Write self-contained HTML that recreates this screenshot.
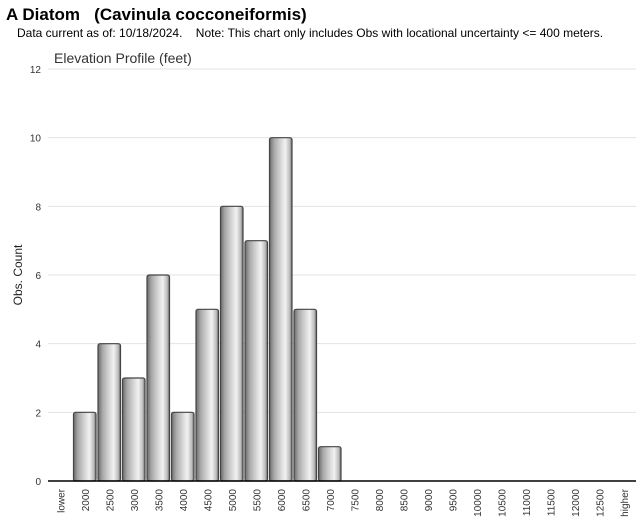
<!DOCTYPE html>
<html><head><meta charset="utf-8"><style>
body{margin:0;background:#fff;font-family:"Liberation Sans",sans-serif;}
#wrap{position:relative;width:640px;height:523px;overflow:hidden;}
</style></head><body>
<div id="wrap">
<div style="position:absolute;left:6px;top:5px;font-size:17px;font-weight:bold;color:#000;">A Diatom &nbsp; (Cavinula cocconeiformis)</div>
<div style="position:absolute;left:17px;top:26px;font-size:12px;color:#000;">Data current as of: 10/18/2024. &nbsp;&nbsp; Note: This chart only includes Obs with locational uncertainty &lt;= 400 meters.</div>
<svg id="chart" width="640" height="523" style="position:absolute;left:0;top:0">
<defs>
<linearGradient id="bg" x1="0" x2="1" y1="0" y2="0">
<stop offset="0" stop-color="#6a6a6a"/><stop offset="0.2" stop-color="#a8a8a8"/><stop offset="0.45" stop-color="#cfcfcf"/><stop offset="0.7" stop-color="#f2f2f2"/><stop offset="0.9" stop-color="#bcbcbc"/><stop offset="1" stop-color="#6a6a6a"/>
</linearGradient>
</defs>
<text x="54" y="63" font-size="14" fill="#333">Elevation Profile (feet)</text>
<text transform="translate(22,275) rotate(-90)" text-anchor="middle" font-size="12" fill="#222">Obs. Count</text>
<g id="grid"></g><g id="bars"></g><g id="xl"></g>
<line x1="48" x2="636" y1="481" y2="481" stroke="#000" stroke-width="1.5"/>
</svg>
<script>
const categories=["lower","2000","2500","3000","3500","4000","4500","5000","5500","6000","6500","7000","7500","8000","8500","9000","9500","10000","10500","11000","11500","12000","12500","higher"];
const counts=[0,2,4,3,6,2,5,8,7,10,5,1,0,0,0,0,0,0,0,0,0,0,0,0];
const yTicks=[0,2,4,6,8,10,12];
const ns="http://www.w3.org/2000/svg";
const L=48,R=636,T=69,B=481,yMax=12;
const bw=(R-L)/categories.length;
const y=v=>B-(v/yMax)*(B-T);
const x=i=>L+i*bw;
const g=document.getElementById('grid'),bg=document.getElementById('bars'),xl=document.getElementById('xl');
yTicks.forEach(t=>{
 const ln=document.createElementNS(ns,'line');
 
 
 ln.setAttribute('x1',L);ln.setAttribute('x2',R);ln.setAttribute('y1',y(t));ln.setAttribute('y2',y(t));
 ln.setAttribute('stroke','#e3e3e3');g.appendChild(ln);
 const tx=document.createElementNS(ns,'text');
 
 
 tx.setAttribute('x',41);tx.setAttribute('y',y(t)+4);tx.setAttribute('text-anchor','end');
 tx.setAttribute('font-size','10');tx.setAttribute('fill','#333');tx.textContent=t;g.appendChild(tx);
});
categories.forEach((c,i)=>{
 const v=counts[i];
 if(v>0){
  const r=document.createElementNS(ns,'rect');
  
  
  r.setAttribute('x',x(i)+1);r.setAttribute('width',bw-2);
  r.setAttribute('y',y(v));r.setAttribute('height',B-y(v));
  r.setAttribute('rx',2);
  r.setAttribute('fill','url(#bg)');r.setAttribute('stroke','#444');r.setAttribute('stroke-width','1.2');
  bg.appendChild(r);
 }
 const tx=document.createElementNS(ns,'text');
 
 
 const cx=x(i)+bw/2+4;
 tx.setAttribute('transform','translate('+cx+',489) rotate(-90)');
 tx.setAttribute('text-anchor','end');tx.setAttribute('font-size','10');tx.setAttribute('fill','#333');
 tx.textContent=c;xl.appendChild(tx);
});
</script>
</div>
</body></html>
